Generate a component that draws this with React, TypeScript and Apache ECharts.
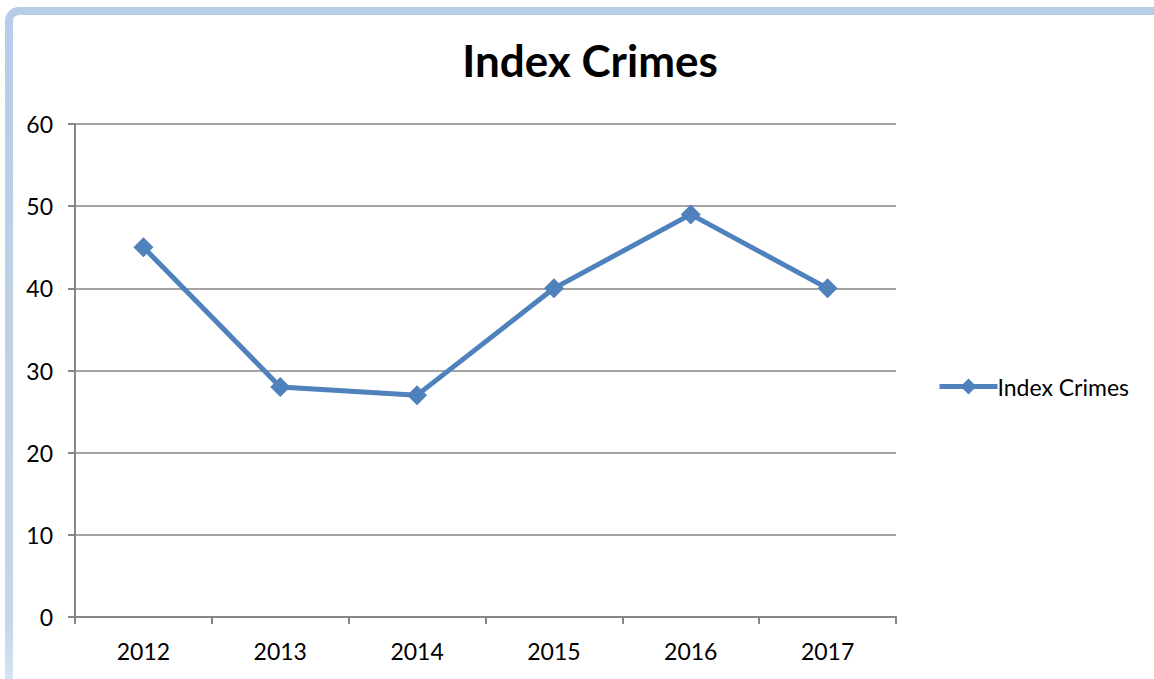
import React, { useEffect, useRef } from "react";
import * as echarts from "echarts";

const categories = ["2012", "2013", "2014", "2015", "2016", "2017"];
const seriesName = "Index Crimes";
const values = [45, 28, 27, 40, 49, 40];
const yTicks = { min: 0, max: 60, interval: 10 };

export default function App() {
  const ref = useRef<HTMLDivElement>(null);
  useEffect(() => {
    if (!ref.current) return;
    const chart = echarts.init(ref.current, undefined, { renderer: "svg" });
    const font = "Lato, 'Open Sans', sans-serif";
    chart.setOption({
      animation: false,
      backgroundColor: "#ffffff",
      textStyle: { fontFamily: font },
      graphic: [
        {
          type: "rect",
          shape: { x: 9, y: 11, width: 1170, height: 720, r: 10 },
          style: {
            fill: "none",
            stroke: {
              type: "linear",
              x: 0, y: 0, x2: 0, y2: 1,
              colorStops: [
                { offset: 0, color: "#b7cce6" },
                { offset: 0.85, color: "#c4d6ec" },
                { offset: 1, color: "#e6eef8" },
              ],
            },
            lineWidth: 8,
          },
          silent: true,
          z: -1,
        },
      ],
      title: {
        text: seriesName,
        left: 585,
        textAlign: "center",
        top: 33,
        textStyle: { fontFamily: font, fontSize: 44, fontWeight: "bold", color: "#000" },
      },
      legend: {
        data: [seriesName],
        left: 932,
        top: 370,
        itemWidth: 58,
        itemHeight: 20,
        itemGap: 0,
        lineStyle: { width: 5 },
        textStyle: { fontFamily: font, fontSize: 23, color: "#000", padding: [0, 0, 0, -5] },
      },
      grid: { left: 75, right: 258, top: 124, bottom: 62, containLabel: false },
      xAxis: {
        type: "category",
        data: categories,
        boundaryGap: true,
        axisLine: { lineStyle: { color: "#868686", width: 2 } },
        axisTick: { show: true, length: 7, lineStyle: { color: "#868686", width: 2 } },
        axisLabel: { color: "#000", fontSize: 23, margin: 22, fontFamily: font },
      },
      yAxis: {
        type: "value",
        min: yTicks.min,
        max: yTicks.max,
        interval: yTicks.interval,
        axisLine: { show: true, lineStyle: { color: "#868686", width: 2 } },
        axisTick: { show: true, length: 7, lineStyle: { color: "#868686", width: 2 } },
        axisLabel: { color: "#000", fontSize: 23, margin: 22, fontFamily: font },
        splitLine: { lineStyle: { color: "#868686", width: 1.5 } },
      },
      series: [
        {
          name: seriesName,
          type: "line",
          data: values,
          symbol: "diamond",
          symbolSize: 20,
          itemStyle: { color: "#4f81bd" },
          lineStyle: { color: "#4f81bd", width: 5 },
        },
      ],
    });
    return () => chart.dispose();
  }, []);
  return (
    <div
      ref={ref}
      style={{ position: "fixed", left: 0, top: 0, width: 1154, height: 679 }}
    />
  );
}
